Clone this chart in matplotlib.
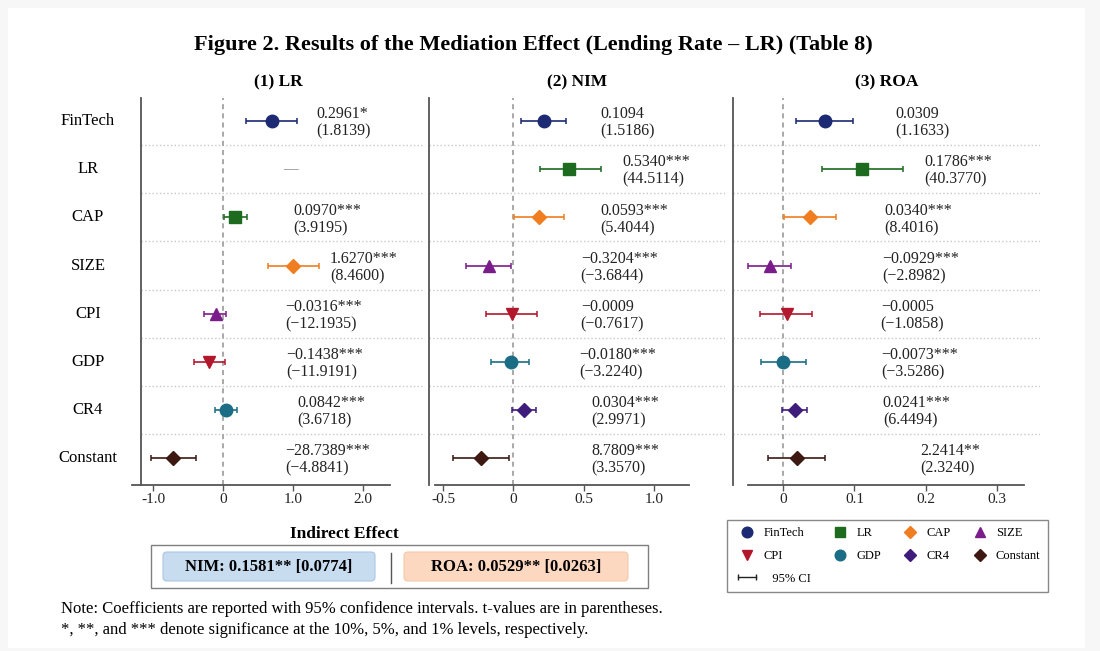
import matplotlib
matplotlib.use("Agg")
import matplotlib.pyplot as plt
import numpy as np
from matplotlib.lines import Line2D
from matplotlib.patches import Rectangle, FancyBboxPatch
from matplotlib.legend_handler import HandlerLine2D
from matplotlib.transforms import blended_transform_factory

plt.rcParams['font.family'] = ['Liberation Serif', 'DejaVu Serif']
plt.rcParams['axes.unicode_minus'] = False

variables = ['FinTech', 'LR', 'CAP', 'SIZE', 'CPI', 'GDP', 'CR4', 'Constant']
panel_titles = ['(1) LR', '(2) NIM', '(3) ROA']

# plotted point estimates with 95% CI bounds
lr_est = [0.695, np.nan, 0.17, 1.005, -0.10, -0.195, 0.04, -0.71]
lr_lo = [0.33, np.nan, 0.01, 0.65, -0.27, -0.41, -0.12, -1.03]
lr_hi = [1.06, np.nan, 0.35, 1.37, 0.05, 0.03, 0.195, -0.385]

nim_est = [0.217, 0.395, 0.181, -0.171, -0.010, -0.017, 0.074, -0.231]
nim_lo = [0.055, 0.188, 0.002, -0.336, -0.193, -0.160, -0.010, -0.431]
nim_hi = [0.376, 0.626, 0.360, -0.017, 0.169, 0.114, 0.162, -0.033]

roa_est = [0.0587, 0.110, 0.0375, -0.0187, 0.005, 0.0, 0.0165, 0.019]
roa_lo = [0.0179, 0.054, 0.001, -0.049, -0.033, -0.031, -0.002, -0.022]
roa_hi = [0.0985, 0.168, 0.074, 0.011, 0.040, 0.032, 0.034, 0.0587]

# reported coefficients and t-values
lr_coef = ['0.2961*', '—', '0.0970***', '1.6270***', '−0.0316***', '−0.1438***', '0.0842***', '−28.7389***']
lr_t = ['(1.8139)', '', '(3.9195)', '(8.4600)', '(−12.1935)', '(−11.9191)', '(3.6718)', '(−4.8841)']
nim_coef = ['0.1094', '0.5340***', '0.0593***', '−0.3204***', '−0.0009', '−0.0180***', '0.0304***', '8.7809***']
nim_t = ['(1.5186)', '(44.5114)', '(5.4044)', '(−3.6844)', '(−0.7617)', '(−3.2240)', '(2.9971)', '(3.3570)']
roa_coef = ['0.0309', '0.1786***', '0.0340***', '−0.0929***', '−0.0005', '−0.0073***', '0.0241***', '2.2414**']
roa_t = ['(1.1633)', '(40.3770)', '(8.4016)', '(−2.8982)', '(−1.0858)', '(−3.5286)', '(6.4494)', '(2.3240)']

indirect = ['NIM: 0.1581** [0.0774]', 'ROA: 0.0529** [0.0263]']

colors = ['#1b2a72', '#1c6b1f', '#f07d1f', '#7a1d8a', '#b3172c', '#1b6d85', '#3f1b7c', '#3d1912']
markers = ['o', 's', 'D', '^', 'v', 'o', 'D', 'D']
msizes = [9, 8.5, 7, 9, 9, 9, 7, 7]

panels = [
    dict(est=lr_est, lo=lr_lo, hi=lr_hi, coef=lr_coef, t=lr_t,
         style=[0, 1, 1, 2, 3, 4, 5, 7],
         px=(132, 425), xlim=(-1.30, 2.886), spine=-1.171, bounds=(-1.30, 2.386),
         ticks=[-1, 0, 1, 2], ticklabels=['-1.0', '0', '1.0', '2.0'],
         label_x=[1.33, 0.96, 1.0, 1.53, 0.885, 0.9, 1.06, 0.885]),
    dict(est=nim_est, lo=nim_lo, hi=nim_hi, coef=nim_coef, t=nim_t,
         style=list(range(8)),
         px=(429, 725), xlim=(-0.600, 1.507), spine=-0.600, bounds=(-0.557, 1.249),
         ticks=[-0.5, 0, 0.5, 1.0], ticklabels=['-0.5', '0', '0.5', '1.0'],
         label_x=[0.617, 0.774, 0.617, 0.48, 0.48, 0.468, 0.553, 0.553]),
    dict(est=roa_est, lo=roa_lo, hi=roa_hi, coef=roa_coef, t=roa_t,
         style=list(range(8)),
         px=(733, 1040), xlim=(-0.0707, 0.3610), spine=-0.0707, bounds=(-0.0497, 0.3385),
         ticks=[0, 0.1, 0.2, 0.3], ticklabels=['0', '0.1', '0.2', '0.3'],
         label_x=[0.157, 0.198, 0.142, 0.139, 0.137, 0.138, 0.140, 0.192]),
]

W, H = 1100, 651
fig = plt.figure(figsize=(W / 100, H / 100), dpi=100, facecolor='#f7f7f7')

# pixel-space background layer
bg = fig.add_axes([0, 0, 1, 1], zorder=-10)
bg.set_xlim(0, W)
bg.set_ylim(H, 0)
bg.axis('off')
bg.add_patch(Rectangle((8, 8), 1077, 640, facecolor='white', edgecolor='none'))

bg.text(533, 45, 'Figure 2. Results of the Mediation Effect (Lending Rate – LR) (Table 8)',
        ha='center', va='center', fontsize=16, fontweight='bold')

top, bottom = 98, 485
n = len(variables)
axes = []
for p, title in zip(panels, panel_titles):
    x0, x1 = p['px']
    ax = fig.add_axes([x0 / W, 1 - bottom / H, (x1 - x0) / W, (bottom - top) / H])
    ax.set_facecolor('none')
    ax.set_xlim(*p['xlim'])
    ax.set_ylim(n - 0.44, -0.48)
    y = np.arange(n)

    ax.hlines(np.arange(n - 1) + 0.5, p['spine'], p['xlim'][1], colors='#c8c8c8',
              linestyles=':', linewidth=1.0, zorder=0)
    ax.axvline(0, color='#9a9a9a', ls=(0, (3, 2.5)), lw=1.2, zorder=1)

    for i in range(n):
        if np.isnan(p['est'][i]):
            continue
        s = p['style'][i]
        est = p['est'][i]
        ax.errorbar(est, y[i], xerr=[[est - p['lo'][i]], [p['hi'][i] - est]],
                    fmt=markers[s], color=colors[s], ms=msizes[s], mec=colors[s],
                    elinewidth=1.2, capsize=2.5, capthick=1.1, zorder=3)

    for i in range(n):
        if p['t'][i]:
            ax.text(p['label_x'][i], y[i] + 0.04, p['coef'][i] + '\n' + p['t'][i],
                    ha='left', va='center', fontsize=11.5, color='#222222', linespacing=1.12)
        else:
            ax.text(p['label_x'][i], y[i], p['coef'][i], ha='center', va='center',
                    fontsize=10.5, color='#8a8a8a')

    for side in ['top', 'right']:
        ax.spines[side].set_visible(False)
    ax.spines['left'].set_position(('data', p['spine']))
    ax.spines['bottom'].set_bounds(*p['bounds'])
    for side in ['left', 'bottom']:
        ax.spines[side].set_color('#555555')
        ax.spines[side].set_linewidth(1.3)
    ax.set_yticks([])
    ax.set_xticks(p['ticks'])
    ax.set_xticklabels(p['ticklabels'])
    ax.tick_params(axis='x', length=4, width=1, color='#555555', labelsize=11, pad=2,
                   labelcolor='#222222')
    ax.text(0.5, 1 + 16 / (bottom - top), title, transform=ax.transAxes,
            ha='center', va='center', fontsize=12.5, fontweight='bold')
    axes.append(ax)

# row labels
row_tr = blended_transform_factory(bg.transData, axes[0].transData)
for i, name in enumerate(variables):
    bg.text(88, i, name, transform=row_tr, ha='center', va='center', fontsize=12)

# legend
handles = [Line2D([], [], marker=m, color=c, ls='none', ms=ms * 0.85)
           for m, c, ms in zip(markers, colors, msizes)]
ci_handle = Line2D([], [], color='#222222', marker='|', ms=5, lw=1)
order = [0, 4, 'ci', 1, 5, 2, 6, 3, 7]
leg_h, leg_l = [], []
for k in order:
    if k == 'ci':
        leg_h.append(ci_handle)
        leg_l.append('   95% CI')
    else:
        leg_h.append(handles[k])
        leg_l.append(variables[k])
fig.legend(leg_h, leg_l, loc='upper left', ncol=4, mode='expand',
           bbox_to_anchor=(727 / W, 1 - 592 / H, 321 / W, 72 / H), bbox_transform=fig.transFigure,
           borderaxespad=0, fontsize=9, fancybox=False, edgecolor='#888888', framealpha=1,
           handlelength=2.0, handletextpad=0.3, labelspacing=0.85, borderpad=0.6,
           handler_map={ci_handle: HandlerLine2D(numpoints=2)})

# indirect effect box
bg.text(344, 534, 'Indirect Effect', ha='center', va='center', fontsize=12.5, fontweight='bold')
bg.add_patch(Rectangle((151, 545), 497, 43, fill=False, edgecolor='#7f7f7f', lw=1))
bg.add_patch(FancyBboxPatch((163, 552), 212, 29, boxstyle='round,pad=0,rounding_size=4',
                            facecolor='#c8dcf0', edgecolor='#aac6e3', lw=0.8))
bg.add_patch(FancyBboxPatch((404, 552), 224, 29, boxstyle='round,pad=0,rounding_size=4',
                            facecolor='#fcd8c1', edgecolor='#f6c8aa', lw=0.8))
bg.plot([391, 391], [553, 583], color='#555555', lw=1)
bg.text(269, 567, indirect[0], ha='center', va='center', fontsize=12, fontweight='bold')
bg.text(516, 567, indirect[1], ha='center', va='center', fontsize=12, fontweight='bold')

bg.text(61, 609, 'Note: Coefficients are reported with 95% confidence intervals. '
        't-values are in parentheses.', ha='left', va='center', fontsize=12)
bg.text(61, 630, '*, **, and *** denote significance at the 10%, 5%, and 1% levels, respectively.',
        ha='left', va='center', fontsize=12)

fig.savefig('out.png', dpi=100, facecolor=fig.get_facecolor())
